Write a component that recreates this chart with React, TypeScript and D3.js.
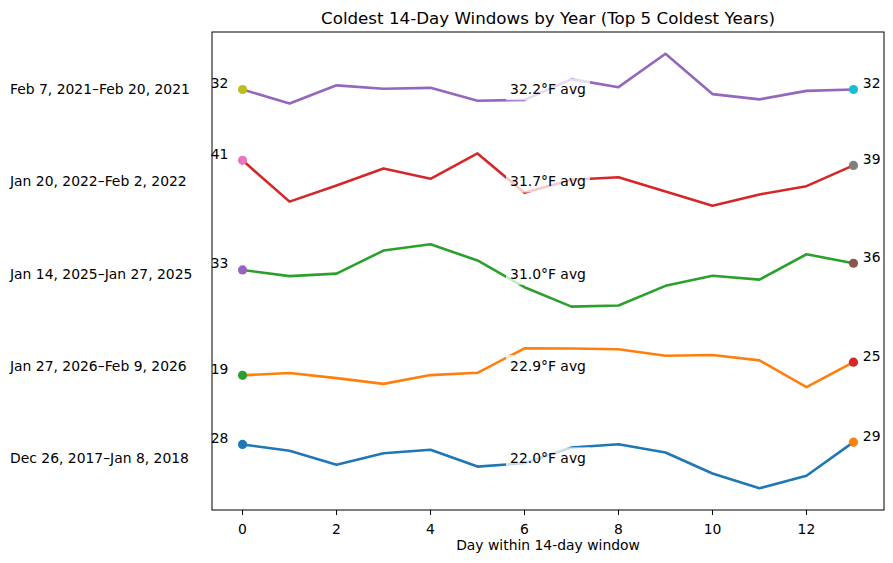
import * as d3 from 'd3';

// windows, bottom to top
const windowLabels = [
  'Dec 26, 2017–Jan 8, 2018',
  'Jan 27, 2026–Feb 9, 2026',
  'Jan 14, 2025–Jan 27, 2025',
  'Jan 20, 2022–Feb 2, 2022',
  'Feb 7, 2021–Feb 20, 2021',
];

const days = [0, 1, 2, 3, 4, 5, 6, 7, 8, 9, 10, 11, 12, 13];
const dayTicks = [0, 2, 4, 6, 8, 10, 12];

// daily temps (°F) for each window
const temps2018 = [28.0, 25.3, 19.2, 24.2, 25.7, 18.4, 19.9, 26.7, 28.1, 24.5, 15.4, 9.0, 14.4, 29.0];
const temps2026 = [18.9, 19.9, 17.7, 15.2, 19.0, 20.0, 30.6, 30.5, 30.2, 27.4, 27.7, 25.4, 13.8, 24.6];
const temps2025 = [32.7, 30.0, 31.1, 41.1, 43.8, 36.8, 25.2, 16.8, 17.3, 25.8, 30.2, 28.5, 39.5, 35.6];
const temps2022 = [40.9, 23.0, 30.0, 37.4, 32.9, 43.9, 26.8, 32.5, 33.6, 27.4, 21.2, 26.1, 29.7, 38.7];
const temps2021 = [32.1, 26.0, 33.9, 32.4, 32.8, 27.2, 27.6, 36.6, 33.1, 47.6, 30.1, 27.8, 31.5, 32.1];

const seriesTemps = [temps2018, temps2026, temps2025, temps2022, temps2021];

const tab10 = d3.schemeCategory10;
const OFFSET = 40;

const W = 893;
const H = 563;
const margin = { top: 32, right: 9, bottom: 53, left: 212 };
const font = 'DejaVu Sans, sans-serif';

export default function App() {
  const x = d3.scaleLinear()
    .domain([-0.65, 13.65])
    .range([margin.left, W - margin.right]);

  const rows = seriesTemps.map((t, i) => {
    const avg = d3.mean(t) || 0;
    const vals = t.map((v) => v - avg + i * OFFSET);
    return { t, avg, vals, i };
  });

  const all = rows.flatMap((r) => r.vals);
  const lo = d3.min(all) || 0;
  const hi = d3.max(all) || 0;
  const pad = (hi - lo) * 0.05;
  const y = d3.scaleLinear()
    .domain([lo - pad, hi + pad])
    .range([H - margin.bottom, margin.top]);

  const line = d3.line<number>()
    .x((_, k) => x(days[k]))
    .y((d) => y(d));

  const axisY = H - margin.bottom;
  const cx = (margin.left + W - margin.right) / 2;

  return (
    <svg width={W} height={H} style={{ position: 'absolute', left: 0, top: 0 }} fontFamily={font}>
      <rect width={W} height={H} fill="white" />
      <text x={cx} y={24} textAnchor="middle" fontSize={16.7}>
        Coldest 14-Day Windows by Year (Top 5 Coldest Years)
      </text>

      {rows.map((r) => {
        const col = tab10[r.i];
        const y0 = y(r.vals[0]);
        const y1 = y(r.vals[13]);
        const ym = y(r.i * OFFSET);
        return (
          <g key={r.i}>
            <path d={line(r.vals) || ''} fill="none" stroke={col} strokeWidth={2.6} strokeLinejoin="round" />
            <circle cx={x(days[0])} cy={y0} r={4.6} fill={tab10[2 * r.i]} />
            <circle cx={x(days[13])} cy={y1} r={4.6} fill={tab10[2 * r.i + 1]} />
            <text x={x(-0.3)} y={y0 - 1.5} textAnchor="end" fontSize={13.9}>
              {Math.round(r.t[0])}
            </text>
            <text x={x(13.2)} y={y1 - 1.5} fontSize={13.9}>
              {Math.round(r.t[13])}
            </text>
            <rect x={x(6.5) - 42} y={ym - 11} width={84} height={22} fill="white" fillOpacity={0.75} />
            <text x={x(6.5)} y={ym} dy="0.35em" textAnchor="middle" fontSize={13.9}>
              {r.avg.toFixed(1)}°F avg
            </text>
            <text x={10} y={ym} dy="0.35em" fontSize={13.9}>
              {windowLabels[r.i]}
            </text>
          </g>
        );
      })}

      <rect
        x={margin.left}
        y={margin.top}
        width={W - margin.right - margin.left}
        height={H - margin.bottom - margin.top}
        fill="none"
        stroke="black"
        strokeWidth={1}
      />
      {dayTicks.map((d) => (
        <g key={d} transform={`translate(${x(d)},${axisY})`}>
          <line y2={5} stroke="black" strokeWidth={1} />
          <text y={19} textAnchor="middle" fontSize={13.9} dy="0.35em">
            {d}
          </text>
        </g>
      ))}
      <text x={cx} y={545} textAnchor="middle" fontSize={13.9} dy="0.35em">
        Day within 14-day window
      </text>
    </svg>
  );
}
